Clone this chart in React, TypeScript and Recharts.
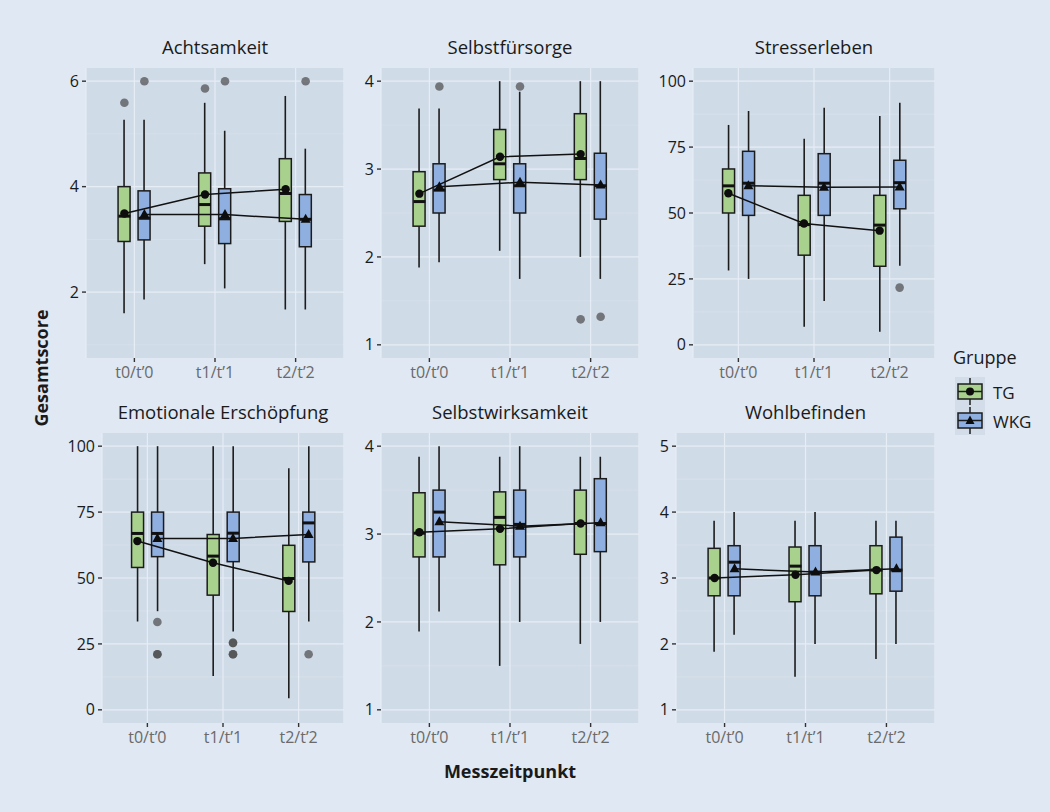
import React from 'react';
import { Bar, CartesianGrid, ComposedChart, Scatter, XAxis, YAxis } from 'recharts';

document.body.style.margin = '0';

// ---------------------------------------------------------------------------
// Data.
// Box arrays: one row per time point, [lower whisker, Q1, median, Q3, upper whisker]
// ---------------------------------------------------------------------------
const TIMES = ['t0/t\u20190', 't1/t\u20191', 't2/t\u20192'];

const ACHT_TG = [[1.6, 2.96, 3.44, 4.0, 5.27], [2.53, 3.25, 3.66, 4.26, 5.59], [1.67, 3.34, 3.87, 4.53, 5.72]];
const ACHT_WKG = [[1.86, 2.99, 3.4, 3.92, 5.27], [2.07, 2.92, 3.39, 3.96, 5.06], [1.67, 2.86, 3.38, 3.85, 4.72]];
const ACHT_TG_MEAN = [3.49, 3.85, 3.95];
const ACHT_WKG_MEAN = [3.47, 3.47, 3.38];
const ACHT_TG_OUT = [[5.59], [5.86], []];
const ACHT_WKG_OUT = [[6.0], [6.0], [6.0]];

const SF_TG = [[1.88, 2.35, 2.63, 2.97, 3.69], [2.07, 2.88, 3.06, 3.45, 4.0], [2.0, 2.88, 3.12, 3.63, 4.0]];
const SF_WKG = [[1.94, 2.5, 2.76, 3.06, 3.69], [1.75, 2.5, 2.81, 3.06, 3.88], [1.75, 2.43, 2.81, 3.18, 4.0]];
const SF_TG_MEAN = [2.72, 3.14, 3.17];
const SF_WKG_MEAN = [2.8, 2.85, 2.82];
const SF_TG_OUT = [[], [], [1.29]];
const SF_WKG_OUT = [[3.94], [3.94], [1.32]];

const STRESS_TG = [[28.2, 50, 60.3, 66.7, 83.4], [6.9, 34.0, 45.6, 56.7, 78.2], [5.0, 29.8, 45.4, 56.7, 86.8]];
const STRESS_WKG = [[25, 49.1, 61.3, 73.4, 88.7], [16.6, 49.1, 61.3, 72.5, 89.9], [30, 51.6, 61.5, 70, 91.8]];
const STRESS_TG_MEAN = [57.5, 46.0, 43.3];
const STRESS_WKG_MEAN = [60.3, 59.8, 59.9];
const STRESS_TG_OUT = [[], [], []];
const STRESS_WKG_OUT = [[], [], [21.7]];

const EE_TG = [[33.5, 54, 66.9, 75, 100], [12.8, 43.5, 58.3, 66.5, 100], [4.4, 37.3, 49.8, 62.4, 91.6]];
const EE_WKG = [[37.4, 58.1, 66.9, 75, 100], [29.7, 56.2, 67, 75, 100], [33.5, 56.1, 70.9, 75, 100]];
const EE_TG_MEAN = [64, 55.8, 48.9];
const EE_WKG_MEAN = [65, 65, 66.5];
const EE_TG_OUT = [[], [], []];
const EE_WKG_OUT = [[33.3, 21.1, 21.1], [25.4, 25.4, 21.1, 21.1], [21.1]];

const SW_TG = [[1.89, 2.74, 3.01, 3.47, 3.88], [1.5, 2.65, 3.19, 3.48, 3.88], [1.75, 2.77, 3.12, 3.5, 3.88]];
const SW_WKG = [[2.12, 2.74, 3.25, 3.5, 4.0], [2.0, 2.74, 3.11, 3.5, 4.0], [2.0, 2.8, 3.12, 3.63, 3.88]];
const SW_TG_MEAN = [3.02, 3.06, 3.12];
const SW_WKG_MEAN = [3.14, 3.09, 3.13];

const WB_TG = [[1.88, 2.73, 3.0, 3.45, 3.87], [1.5, 2.64, 3.18, 3.47, 3.87], [1.77, 2.76, 3.12, 3.49, 3.87]];
const WB_WKG = [[2.14, 2.73, 3.24, 3.49, 4.0], [2.0, 2.73, 3.09, 3.49, 4.0], [2.0, 2.8, 3.12, 3.62, 3.87]];
const WB_TG_MEAN = [3.0, 3.05, 3.12];
const WB_WKG_MEAN = [3.14, 3.09, 3.14];

const NO_OUT = [[], [], []];

// ---------------------------------------------------------------------------
// Styling / layout
// ---------------------------------------------------------------------------
const FONT = '"Open Sans", "Noto Sans", sans-serif';
const PAGE_BG = '#dfe8f3';
const PANEL_BG = '#d0dbe8';
const MAJOR = '#e6edf5';
const MINOR = '#d9e2ed';
const TG_FILL = '#a9d18e';
const WKG_FILL = '#8fafe0';
const INK = '#1c1c1c';

const PANEL_H = 290;
const Y_W = 50;
const X_H = 34;
const BAR_SIZE = 12;
const BAR_GAP = 8;

const PANELS = [
  { title: 'Achtsamkeit', left: 86, top: 68, width: 258, domain: [0.75, 6.25], ticks: [2, 4, 6], minor: [1, 3, 5],
    tg: ACHT_TG, wkg: ACHT_WKG, tgMean: ACHT_TG_MEAN, wkgMean: ACHT_WKG_MEAN, tgOut: ACHT_TG_OUT, wkgOut: ACHT_WKG_OUT },
  { title: 'Selbstfürsorge', left: 381, top: 68, width: 258, domain: [0.85, 4.15], ticks: [1, 2, 3, 4], minor: [1.5, 2.5, 3.5],
    tg: SF_TG, wkg: SF_WKG, tgMean: SF_TG_MEAN, wkgMean: SF_WKG_MEAN, tgOut: SF_TG_OUT, wkgOut: SF_WKG_OUT },
  { title: 'Stresserleben', left: 693, top: 68, width: 242, domain: [-5, 105], ticks: [0, 25, 50, 75, 100], minor: [12.5, 37.5, 62.5, 87.5],
    tg: STRESS_TG, wkg: STRESS_WKG, tgMean: STRESS_TG_MEAN, wkgMean: STRESS_WKG_MEAN, tgOut: STRESS_TG_OUT, wkgOut: STRESS_WKG_OUT },
  { title: 'Emotionale Erschöpfung', left: 102, top: 433, width: 242, domain: [-5, 105], ticks: [0, 25, 50, 75, 100], minor: [12.5, 37.5, 62.5, 87.5],
    tg: EE_TG, wkg: EE_WKG, tgMean: EE_TG_MEAN, wkgMean: EE_WKG_MEAN, tgOut: EE_TG_OUT, wkgOut: EE_WKG_OUT },
  { title: 'Selbstwirksamkeit', left: 381, top: 433, width: 258, domain: [0.85, 4.15], ticks: [1, 2, 3, 4], minor: [1.5, 2.5, 3.5],
    tg: SW_TG, wkg: SW_WKG, tgMean: SW_TG_MEAN, wkgMean: SW_WKG_MEAN, tgOut: NO_OUT, wkgOut: NO_OUT },
  { title: 'Wohlbefinden', left: 676, top: 433, width: 259, domain: [0.8, 5.2], ticks: [1, 2, 3, 4, 5], minor: [1.5, 2.5, 3.5, 4.5],
    tg: WB_TG, wkg: WB_WKG, tgMean: WB_TG_MEAN, wkgMean: WB_WKG_MEAN, tgOut: NO_OUT, wkgOut: NO_OUT },
];

// ---------------------------------------------------------------------------
// Shapes
// ---------------------------------------------------------------------------
const WhiskerShape = (props: any) => {
  const { x, y, width, height } = props;
  const cx = x + width / 2;
  return <line x1={cx} x2={cx} y1={y} y2={y + height} stroke={INK} strokeWidth={1.6} />;
};

const boxShape = (fill: string) => (props: any) => {
  const { x, y, width, height } = props;
  return (
    <rect x={x} y={Math.min(y, y + height)} width={width} height={Math.abs(height)}
      fill={fill} stroke={INK} strokeWidth={1.5} />
  );
};

const MedianShape = (props: any) => (
  <line x1={props.cx - BAR_SIZE / 2} x2={props.cx + BAR_SIZE / 2} y1={props.cy} y2={props.cy}
    stroke="#111" strokeWidth={3} />
);

const CircleMean = (props: any) => <circle cx={props.cx} cy={props.cy} r={4.2} fill="#0d0d0d" />;

const TriangleMean = (props: any) => {
  const { cx, cy } = props;
  return <polygon points={`${cx},${cy - 5.5} ${cx - 5},${cy + 3.5} ${cx + 5},${cy + 3.5}`} fill="#0d0d0d" />;
};

const OutlierShape = (props: any) => (
  <circle cx={props.cx} cy={props.cy} r={4.3} fill="#4a4a4a" fillOpacity={0.7} />
);

const TG_BOX = boxShape(TG_FILL);
const WKG_BOX = boxShape(WKG_FILL);

function Panel({ p }: { p: (typeof PANELS)[number] }) {
  const band = p.width / 3.2;
  const pad = p.width / 32;
  const dodge = (BAR_SIZE + BAR_GAP) / 2 / band;

  const rows = TIMES.map((time, i) => ({
    time,
    tgW: [p.tg[i][0], p.tg[i][4]],
    wkgW: [p.wkg[i][0], p.wkg[i][4]],
    tgB: [p.tg[i][1], p.tg[i][3]],
    wkgB: [p.wkg[i][1], p.wkg[i][3]],
  }));
  const pts = (vals: number[], sign: number) => vals.map((y, i) => ({ x: i + 1 + sign * dodge, y }));
  const outPts = (vals: number[][], sign: number) =>
    vals.flatMap((list, i) => list.map((y) => ({ x: i + 1 + sign * dodge, y })));

  const tgMed = pts(p.tg.map((b) => b[2]), -1);
  const wkgMed = pts(p.wkg.map((b) => b[2]), 1);
  const tgMean = pts(p.tgMean, -1);
  const wkgMean = pts(p.wkgMean, 1);
  const outliers = [...outPts(p.tgOut, -1), ...outPts(p.wkgOut, 1)];

  return (
    <>
      <div style={{ position: 'absolute', left: p.left - 20, top: p.top - 34, width: p.width + 40, textAlign: 'center',
        fontSize: 18.5, lineHeight: '26px', color: '#1a1a1a' }}>
        {p.title}
      </div>
      <div style={{ position: 'absolute', left: p.left - Y_W, top: p.top }}>
        <ComposedChart width={p.width + Y_W} height={PANEL_H + X_H} data={rows}
          margin={{ top: 0, right: 0, bottom: 0, left: 0 }} barSize={BAR_SIZE} barGap={BAR_GAP}>
          <CartesianGrid fill={PANEL_BG} fillOpacity={1} stroke={MINOR} strokeWidth={0.7}
            horizontalValues={p.minor} vertical={false} />
          <CartesianGrid stroke={MAJOR} strokeWidth={1.2} horizontalValues={p.ticks} />
          <XAxis dataKey="time" padding={{ left: pad, right: pad }} height={X_H} axisLine={false}
            tickSize={4} tickMargin={5} tickLine={{ stroke: '#333', strokeWidth: 1.4 }}
            tick={{ fill: '#6a6a6a', fontSize: 16 }} interval={0} />
          <XAxis xAxisId="w" dataKey="time" padding={{ left: pad, right: pad }} hide />
          <XAxis xAxisId="num" type="number" dataKey="x" domain={[0.4, 3.6]} allowDataOverflow hide />
          <YAxis dataKey="y" type="number" domain={p.domain} ticks={p.ticks} allowDataOverflow width={Y_W}
            axisLine={false} tickSize={4} tickMargin={3} tickLine={{ stroke: '#333', strokeWidth: 1.4 }}
            tick={{ fill: '#1a1a1a', fontSize: 16 }} interval={0} />

          <Bar xAxisId="w" dataKey="tgW" shape={WhiskerShape} isAnimationActive={false} />
          <Bar xAxisId="w" dataKey="wkgW" shape={WhiskerShape} isAnimationActive={false} />
          <Bar dataKey="tgB" shape={TG_BOX} isAnimationActive={false} />
          <Bar dataKey="wkgB" shape={WKG_BOX} isAnimationActive={false} />

          <Scatter xAxisId="num" data={outliers} shape={OutlierShape} isAnimationActive={false} />
          <Scatter xAxisId="num" data={tgMed} shape={MedianShape} isAnimationActive={false} />
          <Scatter xAxisId="num" data={wkgMed} shape={MedianShape} isAnimationActive={false} />
          <Scatter xAxisId="num" data={tgMean} shape={CircleMean} line={{ stroke: '#111', strokeWidth: 1.5 }}
            isAnimationActive={false} />
          <Scatter xAxisId="num" data={wkgMean} shape={TriangleMean} line={{ stroke: '#111', strokeWidth: 1.5 }}
            isAnimationActive={false} />
        </ComposedChart>
      </div>
    </>
  );
}

function LegendKey({ top, fill, triangle }: { top: number; fill: string; triangle: boolean }) {
  return (
    <g transform={`translate(0, ${top})`}>
      <rect x={0} y={0} width={30} height={29} fill="#d3dde9" />
      <line x1={15} x2={15} y1={1} y2={28} stroke={INK} strokeWidth={1.5} />
      <rect x={3} y={7} width={24} height={15} fill={fill} stroke={INK} strokeWidth={1.5} />
      <line x1={3} x2={27} y1={14.5} y2={14.5} stroke={INK} strokeWidth={1.5} />
      {triangle ? (
        <polygon points="15,9.5 10.5,18 19.5,18" fill="#0d0d0d" />
      ) : (
        <circle cx={15} cy={14.5} r={4} fill="#0d0d0d" />
      )}
    </g>
  );
}

export default function App() {
  return (
    <div style={{ position: 'relative', width: 1050, height: 812, background: PAGE_BG, fontFamily: FONT, overflow: 'hidden' }}>
      {PANELS.map((p) => (
        <Panel key={p.title} p={p} />
      ))}

      <div style={{ position: 'absolute', left: 41 - 100, top: 368 - 13, width: 200, height: 26, lineHeight: '26px',
        textAlign: 'center', transform: 'rotate(-90deg)', fontWeight: 700, fontSize: 18, color: '#1a1a1a' }}>
        Gesamtscore
      </div>
      <div style={{ position: 'absolute', left: 381 - 100, top: 758, width: 258 + 200, textAlign: 'center',
        lineHeight: '26px', fontWeight: 700, fontSize: 18, color: '#1a1a1a' }}>
        Messzeitpunkt
      </div>

      <div style={{ position: 'absolute', left: 953, top: 344, fontSize: 18, lineHeight: '26px', color: '#1a1a1a' }}>
        Gruppe
      </div>
      <svg style={{ position: 'absolute', left: 955, top: 377 }} width={30} height={58}>
        <LegendKey top={0} fill={TG_FILL} triangle={false} />
        <LegendKey top={29} fill={WKG_FILL} triangle />
      </svg>
      <div style={{ position: 'absolute', left: 993, top: 380, fontSize: 17, lineHeight: '26px', color: '#1a1a1a' }}>TG</div>
      <div style={{ position: 'absolute', left: 993, top: 409, fontSize: 17, lineHeight: '26px', color: '#1a1a1a' }}>WKG</div>
    </div>
  );
}
